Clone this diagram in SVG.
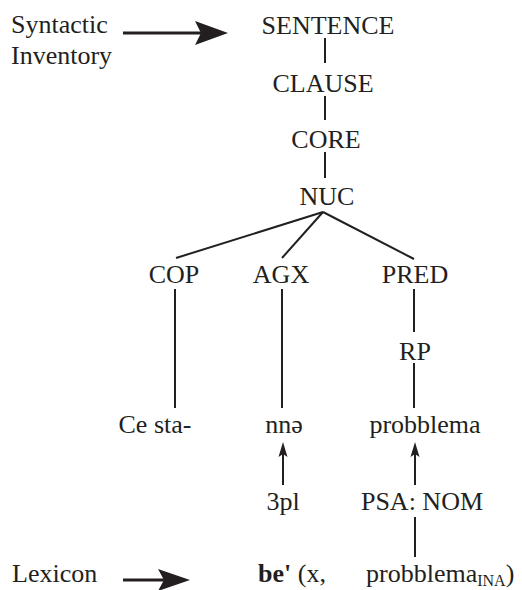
<svg xmlns="http://www.w3.org/2000/svg" width="522" height="590" viewBox="0 0 522 590">
<style>
text{font-family:'Liberation Serif','DejaVu Serif',serif;font-size:26px;fill:#231f20}
.m{text-anchor:middle}
.sub{font-size:16px}
.ln{stroke:#231f20;stroke-width:2;fill:none}
.big{stroke:#231f20;stroke-width:3;fill:none}
.hd{fill:#231f20}
</style>
<rect width="522" height="590" fill="#fff"/>
<g id="labels" font-family="Liberation Serif, serif">
<text x="11" y="33">Syntactic</text>
<text x="11" y="64">Inventory</text>
<text x="12" y="582">Lexicon</text>
</g>
<g id="n-sentence"><text class="m" x="328" y="34">SENTENCE</text></g>
<g id="n-clause"><text class="m" x="323" y="92">CLAUSE</text></g>
<g id="n-core"><text class="m" x="326" y="148">CORE</text></g>
<g id="n-nuc"><text class="m" x="327" y="205">NUC</text></g>
<g id="n-cop"><text class="m" x="174" y="283">COP</text></g>
<g id="n-agx"><text class="m" x="281" y="283">AGX</text></g>
<g id="n-pred"><text class="m" x="415" y="283">PRED</text></g>
<g id="n-rp"><text class="m" x="415" y="360">RP</text></g>
<g id="n-cesta"><text class="m" x="155" y="433">Ce sta-</text></g>
<g id="n-nne"><text class="m" x="284" y="433">nnə</text></g>
<g id="n-probblema"><text class="m" x="425" y="433">probblema</text></g>
<g id="n-3pl"><text class="m" x="283" y="510">3pl</text></g>
<g id="n-psa"><text class="m" x="422" y="510">PSA: NOM</text></g>
<g id="n-lex"><text x="258" y="582"><tspan font-weight="bold">be'</tspan> (x,</text><text x="366" y="582">probblema<tspan class="sub" dy="4">INA</tspan><tspan dy="-4">)</tspan></text></g>
<g id="connectors">
<line class="big" x1="123" y1="33" x2="203" y2="33"/>
<polygon class="hd" points="228,33 195,21 201,33 195,45"/>
<line class="big" x1="123" y1="580" x2="165" y2="580"/>
<polygon class="hd" points="190,580 158,569 164,580 158,591"/>
<line class="ln" x1="325" y1="38" x2="325" y2="63"/>
<line class="ln" x1="325" y1="96" x2="325" y2="120"/>
<line class="ln" x1="325" y1="152" x2="325" y2="178"/>
<line class="ln" x1="323" y1="212" x2="176" y2="258"/>
<line class="ln" x1="323" y1="212" x2="282" y2="258"/>
<line class="ln" x1="323" y1="212" x2="414" y2="259"/>
<line class="ln" x1="175" y1="289" x2="175" y2="408"/>
<line class="ln" x1="282" y1="289" x2="282" y2="408"/>
<line class="ln" x1="414" y1="289" x2="414" y2="332"/>
<line class="ln" x1="414" y1="363" x2="414" y2="408"/>
<line class="ln" x1="283" y1="452" x2="283" y2="485"/>
<polygon class="hd" points="283,442 287.5,457 283,454 278.5,457"/>
<line class="ln" x1="415" y1="452" x2="415" y2="485"/>
<polygon class="hd" points="415,442 419.5,457 415,454 410.5,457"/>
<line class="ln" x1="415" y1="517" x2="415" y2="557"/>
</g>
</svg>
